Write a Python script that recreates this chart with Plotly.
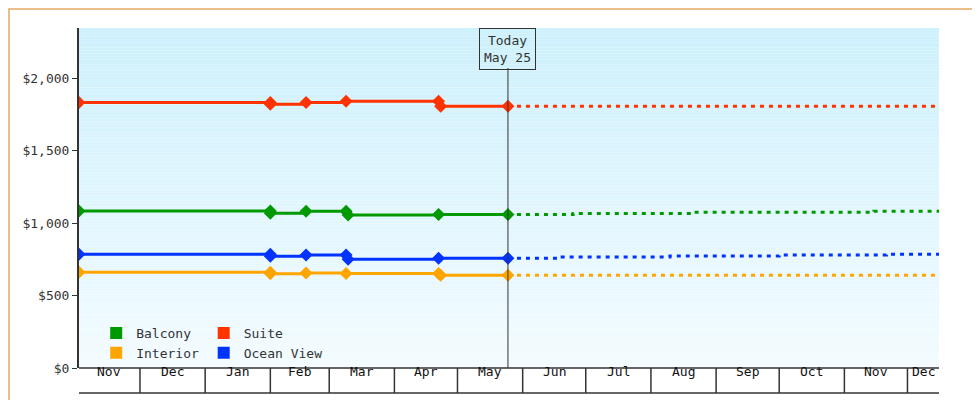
import plotly.graph_objects as go
import pandas as pd

FONT = "DejaVu Sans Mono"
x_start, x_end = "2024-11-02", "2025-12-16"
today = "2025-05-25"
month_starts = ["2024-12-01","2025-01-01","2025-02-01","2025-03-01","2025-04-01","2025-05-01",
                "2025-06-01","2025-07-01","2025-08-01","2025-09-01","2025-10-01","2025-11-01","2025-12-01"]
month_labels = ["Nov","Dec","Jan","Feb","Mar","Apr","May","Jun","Jul","Aug","Sep","Oct","Nov","Dec"]
y_ticks = [0,500,1000,1500,2000]
y_tick_labels = ["$0","$500","$1,000","$1,500","$2,000"]

suite_dates = ["2024-11-02","2025-02-01","2025-02-01","2025-02-18","2025-03-09","2025-04-22","2025-04-23","2025-05-25"]
suite_vals = [1832,1832,1819,1832,1839,1839,1805,1805]
balcony_dates = ["2024-11-02","2025-02-01","2025-02-01","2025-02-18","2025-03-09","2025-03-10","2025-04-22","2025-05-25"]
balcony_vals = [1083,1083,1067,1081,1081,1055,1058,1058]
ocean_dates = ["2024-11-02","2025-02-01","2025-02-01","2025-02-18","2025-03-09","2025-03-10","2025-04-22","2025-05-25"]
ocean_vals = [784,784,770,779,779,750,757,757]
interior_dates = ["2024-11-02","2025-02-01","2025-02-01","2025-02-18","2025-03-09","2025-04-22","2025-04-23","2025-05-25"]
interior_vals = [660,660,650,655,652,652,640,640]

suite_f_dates = ["2025-05-25","2025-12-16"]
suite_f_vals = [1805,1805]
balcony_f_dates = ["2025-05-25","2025-06-25","2025-08-20","2025-11-15","2025-12-16"]
balcony_f_vals = [1058,1066,1074,1081,1081]
ocean_f_dates = ["2025-05-25","2025-06-18","2025-08-10","2025-10-01","2025-11-21","2025-12-16"]
ocean_f_vals = [757,766,772,779,784,784]
interior_f_dates = ["2025-05-25","2025-12-16"]
interior_f_vals = [640,640]

colors = {"Balcony":"#009900","Suite":"#ff3300","Interior":"#ffa500","Ocean View":"#0033ff"}
series = [("Suite",suite_dates,suite_vals,suite_f_dates,suite_f_vals),
          ("Balcony",balcony_dates,balcony_vals,balcony_f_dates,balcony_f_vals),
          ("Ocean View",ocean_dates,ocean_vals,ocean_f_dates,ocean_f_vals),
          ("Interior",interior_dates,interior_vals,interior_f_dates,interior_f_vals)]

fig = go.Figure()
for name,d,v,fd,fv in series:
    c = colors[name]
    fig.add_trace(go.Scatter(x=fd,y=fv,mode="lines",line=dict(color=c,width=3,dash="4px,5px",shape="hv"),
                             showlegend=False,hoverinfo="skip"))
    fig.add_trace(go.Scatter(x=d,y=v,mode="lines+markers",line=dict(color=c,width=3,shape="hv"),
                             marker=dict(symbol="diamond",size=10,color=c),showlegend=False))
for name,lg in [("Balcony","legend"),("Interior","legend"),("Suite","legend2"),("Ocean View","legend2")]:
    fig.add_trace(go.Scatter(x=[None],y=[None],mode="markers",name=name,legend=lg,
                             marker=dict(symbol="square",size=12,color=colors[name])))

W,H,L,R,T,B = 980,400,71,49,20,40
pw,ph = W-L-R, H-T-B
shapes = []
n=120
def mix(a,b,t): return "rgb(%d,%d,%d)"%tuple(round(a[i]+(b[i]-a[i])*t) for i in range(3))
top,bot=(204,240,252),(243,251,255)
for i in range(n):
    shapes.append(dict(type="rect",xref="paper",yref="paper",x0=0,x1=1,y0=1-(i+1)/n,y1=1-i/n,
                       fillcolor=mix(top,bot,i/(n-1)),line_width=0,layer="below"))
yb = -25/ph
shapes.append(dict(type="line",xref="paper",yref="paper",x0=0,x1=1,y0=yb,y1=yb,line=dict(color="#333",width=1.5)))
shapes.append(dict(type="line",xref="paper",yref="paper",x0=0,x1=1,y0=0,y1=0,line=dict(color="#333",width=1.5)))
for m in month_starts:
    shapes.append(dict(type="line",xref="x",yref="paper",x0=m,x1=m,y0=yb,y1=0,line=dict(color="#333",width=1.5)))
shapes.append(dict(type="line",xref="x",yref="paper",x0=today,x1=today,y0=0,y1=(ph-40)/ph,line=dict(color="#333",width=1)))
shapes.append(dict(type="rect",xref="paper",yref="paper",x0=-(L-1)/pw,x1=1+(R-1)/pw,y0=-(B-1)/ph,y1=1+(T-1)/ph,
                   line=dict(color="#e8a860",width=1.5)))

bounds = [x_start]+month_starts+[x_end]
mids = []
for a,b in zip(bounds[:-1],bounds[1:]):
    ta,tb = pd.Timestamp(a),pd.Timestamp(b)
    mids.append((ta+(tb-ta)/2).strftime("%Y-%m-%d %H:%M"))
annos = [dict(x=m,y=-12.5/ph,xref="x",yref="paper",text=t,showarrow=False,font=dict(family=FONT,size=13,color="#111"))
         for m,t in zip(mids,month_labels)]
annos.append(dict(x=today,y=1,xref="x",yref="paper",yanchor="top",text="Today<br>May 25",showarrow=False,
                  bordercolor="#333",borderwidth=1,borderpad=4,font=dict(family=FONT,size=13,color="#333")))

lgfont = dict(family=FONT,size=13,color="#333")
fig.update_layout(width=W,height=H,margin=dict(l=L,r=R,t=T,b=B,autoexpand=False),paper_bgcolor="white",
    plot_bgcolor="rgba(0,0,0,0)",font=dict(family=FONT,size=13,color="#333"),shapes=shapes,annotations=annos,
    legend=dict(x=0.02,y=0.0,xanchor="left",yanchor="bottom",bgcolor="rgba(0,0,0,0)",font=lgfont,
                itemwidth=30,tracegroupgap=0),
    legend2=dict(x=0.145,y=0.0,xanchor="left",yanchor="bottom",bgcolor="rgba(0,0,0,0)",font=lgfont,
                 itemwidth=30,tracegroupgap=0),
    xaxis=dict(range=[x_start,x_end],showgrid=False,showticklabels=False,ticks="",zeroline=False,showline=False,
               automargin=False),
    yaxis=dict(range=[0,2345],tickvals=y_ticks,ticktext=y_tick_labels,showgrid=False,automargin=False,
               zeroline=False,showline=True,linecolor="#333",linewidth=2,ticks="outside",ticklen=5,tickcolor="#333",
               tickfont=dict(family=FONT,size=13,color="#333")),
    showlegend=True)
fig.write_html("out.html")
